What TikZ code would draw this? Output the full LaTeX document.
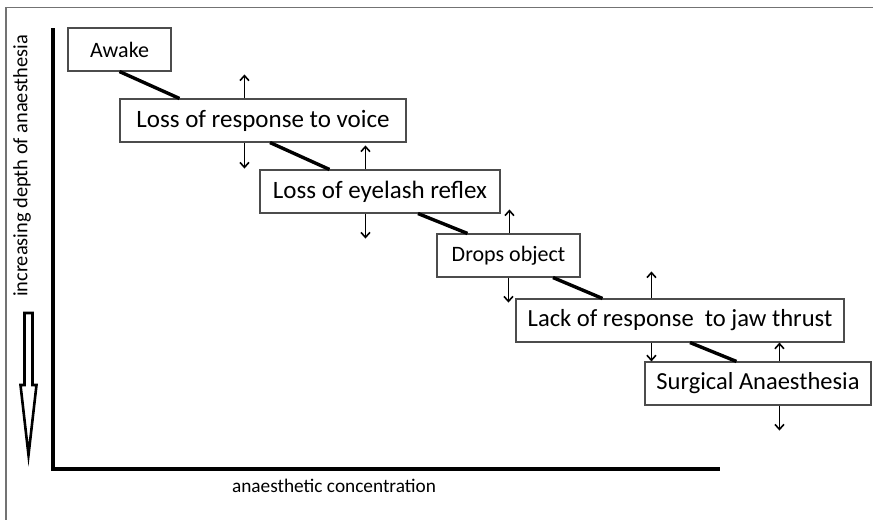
\documentclass[tikz,border=0pt]{standalone}
\usepackage{fontspec}
\setmainfont{Carlito}
\usetikzlibrary{calc,arrows.meta}
\tikzset{>={Straight Barb[length=5pt,width=9pt]}}
\tikzset{
    stagebox/.style={draw=black!70,fill=white,line width=1.1pt,inner sep=0pt,minimum height=43pt},
    stairline/.style={line width=3.4pt},
    tick/.style={->,line width=1.6pt}
}
\newcommand{\stage}[6][25]{
    \node[stagebox,minimum width=#5pt,font=\fontsize{#1}{#1}\selectfont] (#2) at (#3,#4) {#6};
}

\begin{document}
\begin{tikzpicture}[x=1pt,y=-1pt]
            \useasboundingbox (0,0) rectangle (873,520);
            \draw[black!55,line width=1.3pt] (873,7.5) -- (6,7.5) -- (6,520);
            % axes
            \coordinate (ytop) at (53,28);
            \coordinate (origin) at (53,469);
            \coordinate (xend) at (720,469);
            \draw[line width=3.2pt] (ytop) -- (origin) -- (xend);
            \node[rotate=90,font=\fontsize{20.4}{20.4}\selectfont] (ylabel) at (22,166) {increasing depth of anaesthesia};
            \node[font=\fontsize{19.3}{19.3}\selectfont] (xlabel) at (334,486) {anaesthetic concentration};
            \draw[line width=2.6pt,fill=white,line join=miter] (24.5,313) -- (32.5,313) -- (32.5,385)
            -- (36.5,385) -- (28.5,455) -- (20.5,385) -- (24.5,385) -- cycle;
            % stages
            \stage[22]{awake}{119.5}{49.5}{103}{Awake}
            \stage{lrv}{263}{120.5}{286}{Loss of response to voice}
            \stage{ler}{380}{191.5}{240}{Loss of eyelash reflex}
            \stage[22]{drops}{508.5}{255.5}{143}{Drops object}
            \stage[24.6]{lack}{680}{320.5}{328}{Lack of response\ \ to jaw thrust}
            \stage[24.5]{surg}{758}{383.5}{226}{Surgical Anaesthesia}
            \draw[stairline] (awake.south) -- ($(lrv.north west)+(60,0)$);
            \draw[stairline] ($(lrv.south)+(7,0)$) -- ($(ler.north west)+(70,0)$);
            \draw[stairline] ($(ler.south)+(38,0)$) -- ($(drops.north west)+(31,0)$);
            \draw[stairline] ($(drops.south)+(44.5,0)$) -- ($(lack.north west)+(87,0)$);
            \draw[stairline] ($(lack.south)+(10,0)$) -- ($(surg.north west)+(92,0)$);
            % up and down ticks
            \draw[tick] ($(lrv.north west)+(125,0)$) -- +(0,-24);
            \draw[tick] ($(lrv.south west)+(125,0)$) -- +(0,26);
            \draw[tick] ($(ler.north west)+(106,0)$) -- +(0,-24);
            \draw[tick] ($(ler.south west)+(106,0)$) -- +(0,25);
            \draw[tick] ($(drops.north west)+(73,0)$) -- +(0,-24);
            \draw[tick] ($(drops.south west)+(72,0)$) -- +(0,25);
            \draw[tick] ($(lack.north west)+(136,0)$) -- +(0,-27);
            \coordinate (lackdn) at ($(lack.south west)+(136,0)$);
            \draw[tick] (lackdn) -- (lackdn |- surg.north);
            \coordinate (surgup) at ($(surg.north west)+(135,0)$);
            \draw[tick] (surgup) -- (surgup |- lack.south);
            \draw[tick] ($(surg.south west)+(135,0)$) -- +(0,25);
\end{tikzpicture}
\end{document}
